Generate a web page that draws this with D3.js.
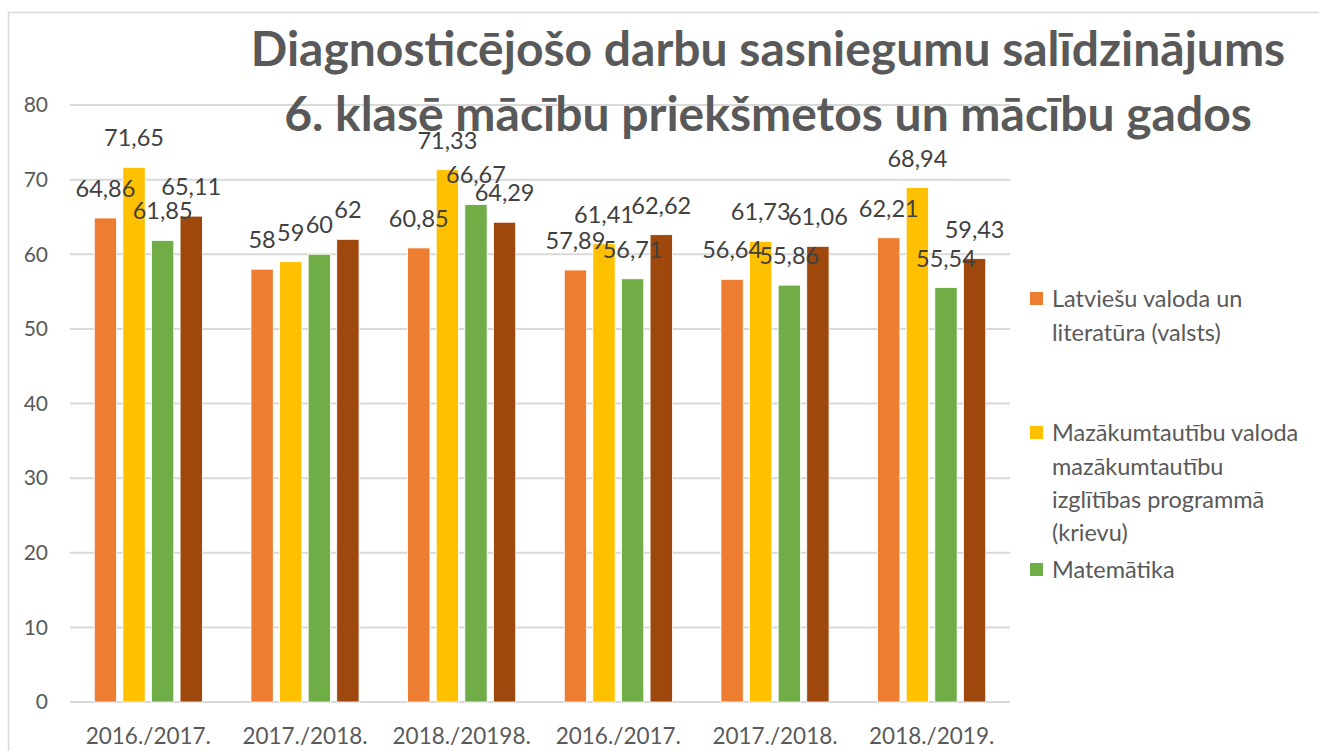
<!DOCTYPE html>
<html>
<head>
<meta charset="utf-8">
<script src="https://cdn.jsdelivr.net/npm/d3@7"></script>
<style>
  body { margin: 0; background: #fff; }
  svg { display: block; font-family: Lato, "Open Sans", sans-serif; }
</style>
</head>
<body>
<svg id="chart" width="1319" height="751"></svg>
<script>
const categories = ["2016./2017.", "2017./2018.", "2018./20198.", "2016./2017.", "2017./2018.", "2018./2019."];
const seriesNames = [
    "Latviešu valoda un literatūra (valsts)",
    "Mazākumtautību valoda mazākumtautību izglītības programmā (krievu)",
    "Matemātika",
    "Dabaszinības"
];
const latviesu = [64.86, 58, 60.85, 57.89, 56.64, 62.21];
const mazakumt = [71.65, 59, 71.33, 61.41, 61.73, 68.94];
const matematika = [61.85, 60, 66.67, 56.71, 55.86, 55.54];
const ceturta = [65.11, 62, 64.29, 62.62, 61.06, 59.43];
const yTicks = [0, 10, 20, 30, 40, 50, 60, 70, 80];
const titleLines = ["Diagnosticējošo darbu sasniegumu salīdzinājums", "6. klasē mācību priekšmetos un mācību gados"];
// legend shows only the first three entries (the fourth is cut off in the original)
const legendLines = [
    ["Latviešu valoda un", "literatūra (valsts)"],
    ["Mazākumtautību valoda", "mazākumtautību", "izglītības programmā", "(krievu)"],
    ["Matemātika"]
];

const colors = ["#ED7D31", "#FFC000", "#70AD47", "#9E480E"];
const seriesValues = [latviesu, mazakumt, matematika, ceturta];

const svg = d3.select("svg#chart");

// chart border (left + top visible)
svg.append("path")
    .attr("d", "M8.5,751 V12.5 H1319")
    .attr("fill", "none")
    .attr("stroke", "#d9d9d9")
    .attr("stroke-width", 1.5);

const x0 = d3.scaleBand()
    .domain(d3.range(categories.length))
    .range([70, 1010])
    .paddingInner(0.31)
    .paddingOuter(0.155);
const x1 = d3.scaleBand()
    .domain(d3.range(seriesValues.length))
    .range([0, x0.bandwidth()])
    .paddingInner(0.22);
const y = d3.scaleLinear().domain([0, 80]).range([702, 105]);

// gridlines
svg.append("g").selectAll("line")
    .data(yTicks)
    .join("line")
    .attr("x1", 70).attr("x2", 1010)
    .attr("y1", d => y(d)).attr("y2", d => y(d))
    .attr("stroke", "#d9d9d9")
    .attr("stroke-width", 2);

// y tick labels
svg.append("g").selectAll("text")
    .data(yTicks)
    .join("text")
    .attr("x", 48)
    .attr("y", d => y(d))
    .attr("dy", "0.35em")
    .attr("text-anchor", "end")
    .attr("fill", "#595959")
    .attr("font-size", 21)
    .text(d => d);

// x labels
svg.append("g").selectAll("text")
    .data(categories)
    .join("text")
    .attr("x", (d, i) => x0(i) + x0.bandwidth() / 2)
    .attr("y", 744)
    .attr("text-anchor", "middle")
    .attr("fill", "#595959")
    .attr("font-size", 22.5)
    .text(d => d);

// bars
const groups = svg.append("g").selectAll("g")
    .data(categories)
    .join("g")
    .attr("transform", (d, i) => `translate(${x0(i)},0)`);

const cells = (d, i) => seriesValues.map((vals, s) => ({ s: s, v: vals[i] }));

groups.selectAll("rect")
    .data(cells)
    .join("rect")
    .attr("x", d => x1(d.s))
    .attr("width", x1.bandwidth())
    .attr("y", d => y(d.v))
    .attr("height", d => y(0) - y(d.v))
    .attr("fill", d => colors[d.s])
    .attr("stroke", "#fff")
    .attr("stroke-width", 0.8);

groups.selectAll("text")
    .data(cells)
    .join("text")
    .attr("x", d => x1(d.s) + x1.bandwidth() / 2)
    .attr("y", d => y(d.v) - 21)
    .attr("text-anchor", "middle")
    .attr("fill", "#404040")
    .attr("font-size", 23.5)
    .text(d => String(d.v).replace(".", ","));

// title
svg.append("g").selectAll("text")
    .data(titleLines)
    .join("text")
    .attr("x", 768)
    .attr("y", (d, i) => 66 + i * 65)
    .attr("text-anchor", "middle")
    .attr("font-weight", "bold")
    .attr("font-size", 48)
    .attr("fill", "#595959")
    .text(d => d);

// legend
const legendTop = [299, 433, 570];
const legend = svg.append("g").selectAll("g")
    .data(legendLines)
    .join("g")
    .attr("transform", (d, i) => `translate(1030,${legendTop[i]})`);
legend.append("rect")
    .attr("x", 0).attr("y", -7)
    .attr("width", 13).attr("height", 13)
    .attr("fill", (d, i) => colors[i]);
legend.selectAll("text")
    .data(d => d)
    .join("text")
    .attr("x", 22)
    .attr("y", (d, j) => j * 33.3)
    .attr("dy", "0.35em")
    .attr("fill", "#595959")
    .attr("font-size", 23.5)
    .text(d => d);
</script>
</body>
</html>
